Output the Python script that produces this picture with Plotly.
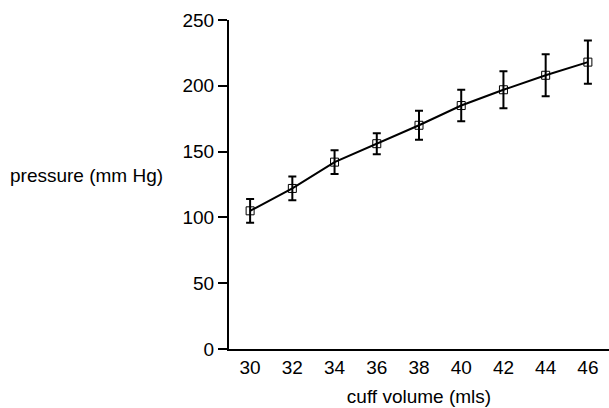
import plotly.graph_objects as go

cuff_volume = [30, 32, 34, 36, 38, 40, 42, 44, 46]
pressure = [105, 122, 142, 156, 170, 185, 197, 208, 218]
pressure_err = [9, 9, 9, 8, 11, 12, 14, 16, 16.5]
x_ticks = [30, 32, 34, 36, 38, 40, 42, 44, 46]
y_ticks = [0, 50, 100, 150, 200, 250]

FONT = "Arial, Liberation Sans, Helvetica, sans-serif"
FS = 19

fig = go.Figure()
fig.add_trace(go.Scatter(
    x=cuff_volume, y=pressure,
    mode="lines+markers",
    line=dict(color="black", width=2),
    marker=dict(symbol="square-open", size=8, color="black", line=dict(width=1, color="black")),
    error_y=dict(type="data", array=pressure_err, visible=True, color="black", thickness=2, width=4),
    showlegend=False,
))

fig.update_layout(
    width=609, height=408,
    margin=dict(l=229, r=0, t=20, b=59),
    paper_bgcolor="white", plot_bgcolor="white",
    font=dict(family=FONT, size=FS, color="black"),
    xaxis=dict(
        range=[29, 47], tickvals=x_ticks, ticktext=[str(v) for v in x_ticks],
        showline=True, linecolor="black", linewidth=2, ticks="",
        showgrid=False, zeroline=False, ticklabelstandoff=0,
        title=dict(text="cuff volume (mls)", standoff=13, font=dict(size=FS)),
    ),
    yaxis=dict(
        range=[0, 250], tickvals=y_ticks,
        showline=True, linecolor="black", linewidth=2, ticks="outside",
        ticklen=9, tickwidth=2, tickcolor="black",
        showgrid=False, zeroline=False, ticklabelstandoff=0,
    ),
    annotations=[dict(
        text="pressure (mm Hg)", xref="paper", yref="paper",
        x=-229/380 + 8/380, y=(349-175)/329, xanchor="left", yanchor="middle",
        showarrow=False, font=dict(size=FS, family=FONT, color="black"),
    )],
)

fig.write_html(
    "out.html",
    config={"displayModeBar": False},
    post_script="document.body.style.margin='0';document.body.style.overflow='hidden';",
)
